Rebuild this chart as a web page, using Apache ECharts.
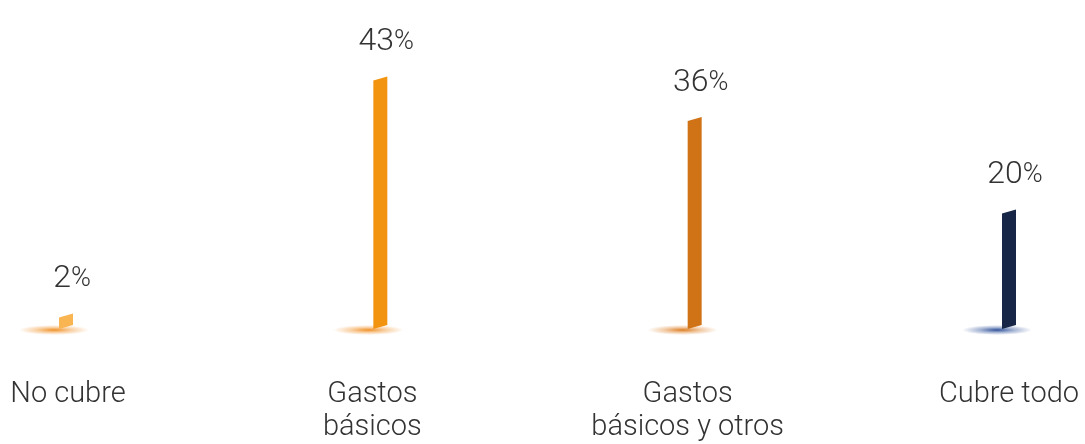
<!DOCTYPE html>
<html>
<head>
<meta charset="utf-8">
<script src="https://cdn.jsdelivr.net/npm/echarts@6/dist/echarts.min.js"></script>
<style>
  html, body { margin: 0; padding: 0; background: #fff; }
  #chart { width: 1085px; height: 444px; }
</style>
</head>
<body>
<div id="chart"></div>
<script>
// datos de la grafica
var categories = ['No cubre', 'Gastos\nbásicos', 'Gastos\nbásicos y otros', 'Cubre todo']
var values = [2, 43, 36, 20]
var barColors = ['#F8B552', '#F39411', '#D07316', '#172647']
var glowColors = ['240,140,30', '240,140,30', '220,120,25', '40,75,150']
// pequeño ajuste horizontal de las etiquetas del eje
var labelShift = [2, -8, -7, 0]

var chart = echarts.init(document.getElementById('chart'))

// barra inclinada + sombra + etiqueta
function renderBar (params, api) {
  var i = params.dataIndex
  var base = api.coord([api.value(0), 0])
  var top = api.coord([api.value(0), api.value(1)])
  var cx = base[0]
  var w = 7
  var skew = 4
  var glow = glowColors[i]
  return {
    type: 'group',
    children: [
      {
        type: 'circle',
        shape: { cx: 0, cy: 0, r: 5 },
        x: cx - 12,
        y: base[1] + 1,
        scaleX: 7,
        scaleY: 1,
        style: {
          fill: new echarts.graphic.RadialGradient(0.5, 0.5, 0.5, [
            { offset: 0, color: 'rgba(' + glow + ',0.95)' },
            { offset: 0.5, color: 'rgba(' + glow + ',0.4)' },
            { offset: 1, color: 'rgba(' + glow + ',0)' }
          ])
        },
        z2: 1
      },
      {
        type: 'polygon',
        shape: {
          points: [
            [cx - w, base[1]],
            [cx + w, base[1] - skew],
            [cx + w, top[1] - skew],
            [cx - w, top[1]]
          ]
        },
        style: { fill: barColors[i] },
        z2: 2
      },
      {
        type: 'text',
        x: cx + 6,
        y: top[1] - 22,
        style: {
          text: '{n|' + api.value(1) + '}{p|%}',
          align: 'center',
          verticalAlign: 'bottom',
          rich: {
            n: { fontSize: 32, fontFamily: 'Roboto', fontWeight: 300, fill: '#333' },
            p: { fontSize: 27, fontFamily: 'Roboto', fontWeight: 300, fill: '#333' }
          }
        },
        z2: 3
      }
    ]
  }
}

chart.setOption({
  animation: false,
  grid: { left: 66, right: 76, top: 40, bottom: 114 },
  xAxis: {
    type: 'category',
    data: categories.map(function (c, i) {
      var s = labelShift[i]
      return { value: c, textStyle: { padding: s < 0 ? [0, -2 * s, 0, 0] : [0, 0, 0, 2 * s] } }
    }),
    boundaryGap: false,
    axisLine: { show: false },
    axisTick: { show: false },
    axisLabel: {
      show: true,
      interval: 0,
      margin: 49,
      color: '#333',
      fontSize: 29,
      lineHeight: 33,
      fontFamily: 'Roboto',
      fontWeight: 300,
      verticalAlign: 'top'
    }
  },
  yAxis: {
    type: 'value',
    min: 0,
    max: 50,
    show: false,
    splitLine: { show: false }
  },
  series: [{
    type: 'custom',
    renderItem: renderBar,
    clip: false,
    data: values.map(function (v, i) { return [i, v] })
  }]
})
</script>
</body>
</html>
